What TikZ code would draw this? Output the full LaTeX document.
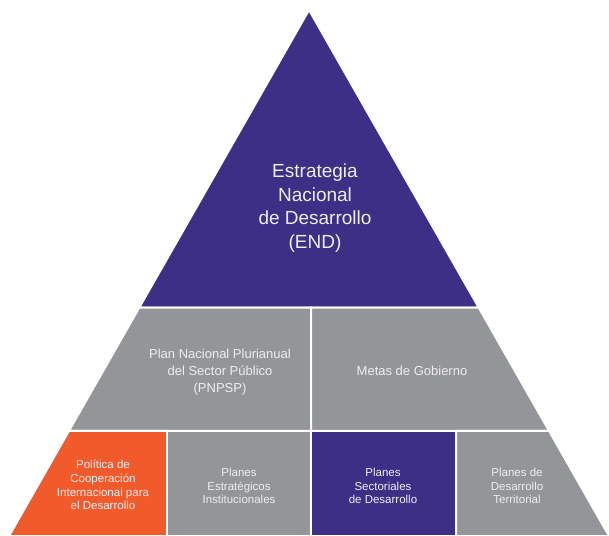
\documentclass[tikz,border=0pt]{standalone}
\usepackage{fontspec}
\setmainfont{Liberation Sans}
\usetikzlibrary{calc}

\definecolor{endpurple}{HTML}{3D2F86}
\definecolor{plangray}{HTML}{939598}
\definecolor{cooporange}{HTML}{F15A2B}
\definecolor{labelwhite}{HTML}{EEEEF2}

\begin{document}
\begin{tikzpicture}[x=1pt, y=-1pt,
		tier/.style={draw=white, line width=2pt, line join=miter},
		toplabel/.style={text=labelwhite, align=center, font=\fontsize{19}{23.5}\selectfont},
		midlabel/.style={text=labelwhite, align=center, font=\fontsize{13}{17}\selectfont},
		lowlabel/.style={text=labelwhite, align=center, font=\fontsize{11.5}{13.8}\selectfont}]
		\useasboundingbox (0,0) rectangle (609,535);

		% corners of the pyramid
		\coordinate (apex) at (309,10);
		\coordinate (bl) at (9,536);
		\coordinate (br) at (609,536);

		% edges of the tiers
		\coordinate (tl) at ($(apex)!0.5657!(bl)$);
		\coordinate (tr) at ($(apex)!0.5657!(br)$);
		\coordinate (ml) at ($(apex)!0.8!(bl)$);
		\coordinate (mr) at ($(apex)!0.8!(br)$);

		% vertical splits
		\coordinate (s1) at (167,0);
		\coordinate (s2) at (311,0);
		\coordinate (s3) at (456,0);

		% Top tier
		\filldraw[tier, fill=endpurple] (apex) -- (tr) -- (tl) -- cycle;

		% Middle tier
		\filldraw[tier, fill=plangray] (tl) -- (tl -| s2) -- (ml -| s2) -- (ml) -- cycle;
		\filldraw[tier, fill=plangray] (tl -| s2) -- (tr) -- (mr) -- (ml -| s2) -- cycle;

		% Bottom tier
		\filldraw[tier, fill=cooporange] (ml) -- (ml -| s1) -- (bl -| s1) -- (bl) -- cycle;
		\filldraw[tier, fill=plangray] (ml -| s1) -- (ml -| s2) -- (bl -| s2) -- (bl -| s1) -- cycle;
		\filldraw[tier, fill=endpurple] (ml -| s2) -- (ml -| s3) -- (bl -| s3) -- (bl -| s2) -- cycle;
		\filldraw[tier, fill=plangray] (ml -| s3) -- (mr) -- (br) -- (bl -| s3) -- cycle;

		% Labels
		\node[toplabel] (end) at (315,208) {Estrategia\\Nacional\\de Desarrollo\\(END)};

		\node[midlabel] (pnpsp) at (220,372) {Plan Nacional Plurianual\\del Sector Público\\(PNPSP)};
		\node[midlabel] (metas) at (412,371) {Metas de Gobierno};

		\node[lowlabel] (coop) at (103,485) {Política de\\Cooperación\\Internacional para\\el Desarrollo};
		\node[lowlabel] (pei) at (239,486) {Planes\\Estratégicos\\Institucionales};
		\node[lowlabel] (psd) at (383,486) {Planes\\Sectoriales\\de Desarrollo};
		\node[lowlabel] (pdt) at (517,486) {Planes de\\Desarrollo\\Territorial};
	\end{tikzpicture}
\end{document}
